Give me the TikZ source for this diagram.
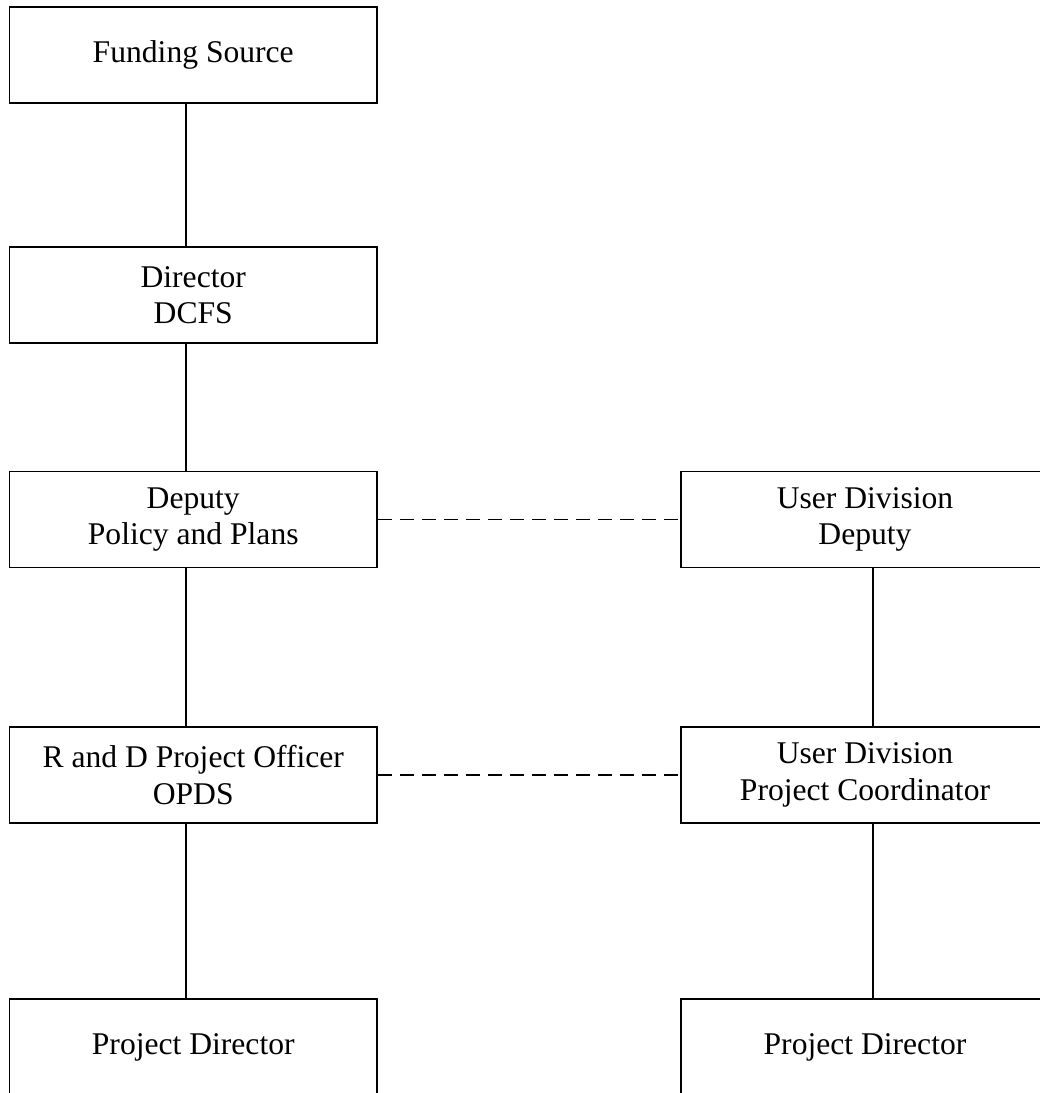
\documentclass[tikz,border=0pt]{standalone}
\usepackage{fontspec}
\setmainfont{Liberation Serif}
\begin{document}
\begin{tikzpicture}[x=1pt,y=-1pt,
  box/.style={draw,line width=1.9pt,inner sep=0pt,align=center,
    minimum width=367.5pt,minimum height=96pt,
    font=\fontsize{31.6}{36.5}\selectfont},
  link/.style={line width=1.9pt},
  dlink/.style={line width=1.9pt,dash pattern=on 14pt off 8pt}]
\useasboundingbox (0,0) rectangle (1040,1093);
\clip (0,0) rectangle (1040,1093);
\node[box] (fund) at (193.25,55) {Funding Source};
\node[box] (dir)  at (193.25,295) {Director\\DCFS};
\node[box] (dep)  at (193.25,519.5) {Deputy\\Policy and Plans};
\node[box] (rd)   at (193.25,775) {R and D Project Officer\\OPDS};
\node[box] (pdl)  at (193.25,1047) {Project Director};
\node[box] (udd)  at (865,519.5) {User Division\\Deputy};
\node[box] (udpc) at (865,775) {User Division\\Project Coordinator};
\node[box] (pdr)  at (865,1047) {Project Director};
\draw[link] ([xshift=-7.5pt]fund.south) -- ([xshift=-7.5pt]dir.north);
\draw[link] ([xshift=-7.5pt]dir.south) -- ([xshift=-7.5pt]dep.north);
\draw[link] ([xshift=-7.5pt]dep.south) -- ([xshift=-7.5pt]rd.north);
\draw[link] ([xshift=-7.5pt]rd.south) -- ([xshift=-7.5pt]pdl.north);
\draw[link] ([xshift=8pt]udd.south) -- ([xshift=8pt]udpc.north);
\draw[link] ([xshift=8pt]udpc.south) -- ([xshift=8pt]pdr.north);
\draw[dlink] (dep.east) -- (udd.west);
\draw[dlink] (rd.east) -- (udpc.west);
\end{tikzpicture}
\end{document}
